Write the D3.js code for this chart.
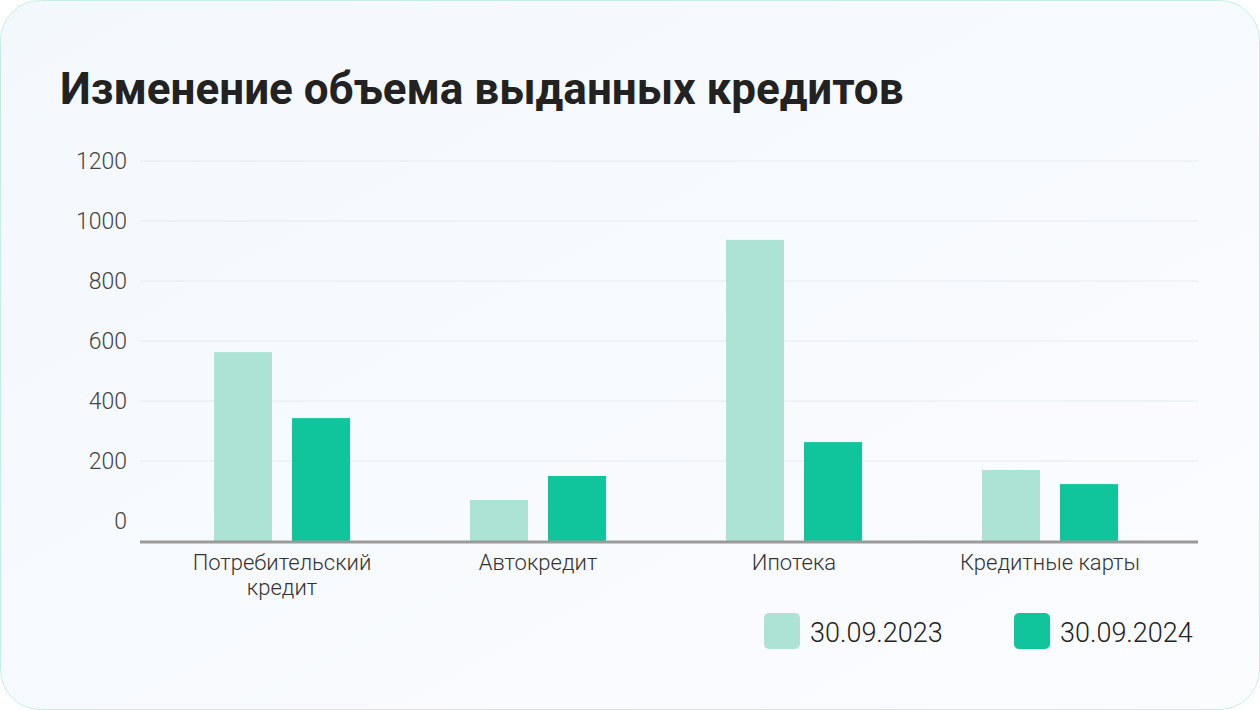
<!DOCTYPE html>
<html><head><meta charset="utf-8">
<script src="https://cdn.jsdelivr.net/npm/d3@7"></script>
<style>body{margin:0;background:#fff;font-family:Roboto,sans-serif}</style>
</head><body>
<svg id="chart" width="1260" height="710"></svg>
<script>
// data
var categories = [['Потребительский', 'кредит'], ['Автокредит'], ['Ипотека'], ['Кредитные карты']];
var series = ['30.09.2023', '30.09.2024'];
var values2023 = [563, 70, 937, 170];
var values2024 = [343, 150, 263, 123];
var yTicks = [0, 200, 400, 600, 800, 1000, 1200];
var colors = ['#ade3d5', '#10c59c'];

var svg = d3.select('#chart');
var defs = svg.append('defs');
var grad = defs.append('linearGradient').attr('id', 'bg').attr('x1', 0).attr('y1', 0).attr('x2', 1).attr('y2', 1);
grad.append('stop').attr('offset', '0%').attr('stop-color', '#f3f8fd');
grad.append('stop').attr('offset', '100%').attr('stop-color', '#fbfcfe');

svg.append('rect').attr('x', 0.5).attr('y', 0.5).attr('width', 1259).attr('height', 709)
    .attr('rx', 40).attr('fill', 'url(#bg)').attr('stroke', '#c8eee3');

svg.append('text').attr('x', 60).attr('y', 104).text('Изменение объема выданных кредитов')
    .style('font-size', '44px').style('font-weight', 'bold').style('fill', '#222');

var baseline = 542;
var y = d3.scaleLinear().domain([0, 1200]).range([521, 161]);
var x = d3.scaleBand().domain(d3.range(categories.length)).range([154, 1178]);

// gridlines + tick labels
svg.append('g').selectAll('line').data(yTicks.slice(1)).enter().append('line')
    .attr('x1', 140).attr('x2', 1198).attr('y1', d => y(d)).attr('y2', d => y(d))
    .attr('stroke', '#e6eaee');
svg.append('g').selectAll('text').data(yTicks).enter().append('text')
    .attr('x', 127).attr('y', d => y(d) + 8).attr('text-anchor', 'end')
    .text(d => d).style('font-size', '23px').style('font-weight', 300).style('fill', '#444');

var barW = 58, gap = 20;
[values2023, values2024].forEach(function(vals, s) {
    svg.append('g').selectAll('rect').data(vals).enter().append('rect')
        .attr('x', (d, i) => x(i) + x.bandwidth() / 2 - barW - gap / 2 + s * (barW + gap))
        .attr('y', d => y(d)).attr('width', barW).attr('height', d => baseline - y(d))
        .attr('fill', colors[s]);
});

svg.append('line').attr('x1', 140).attr('x2', 1198).attr('y1', baseline).attr('y2', baseline)
    .attr('stroke', '#9a9a9a').attr('stroke-width', 3);

var cat = svg.append('g').selectAll('text').data(categories).enter().append('text')
    .attr('text-anchor', 'middle').style('font-size', '22px').style('font-weight', 300).style('fill', '#333');
cat.each(function(lines, i) {
    d3.select(this).selectAll('tspan').data(lines).enter().append('tspan')
        .attr('x', x(i) + x.bandwidth() / 2).attr('y', (d, j) => 570 + j * 25).text(d => d);
});

// legend
var legX = [764, 1014];
series.forEach(function(name, s) {
    svg.append('rect').attr('x', legX[s]).attr('y', 613).attr('width', 36).attr('height', 36)
        .attr('rx', 5).attr('fill', colors[s]);
    svg.append('text').attr('x', legX[s] + 46).attr('y', 642).text(name)
        .style('font-size', '27px').style('font-weight', 300).style('fill', '#222');
});
</script>
</body></html>
